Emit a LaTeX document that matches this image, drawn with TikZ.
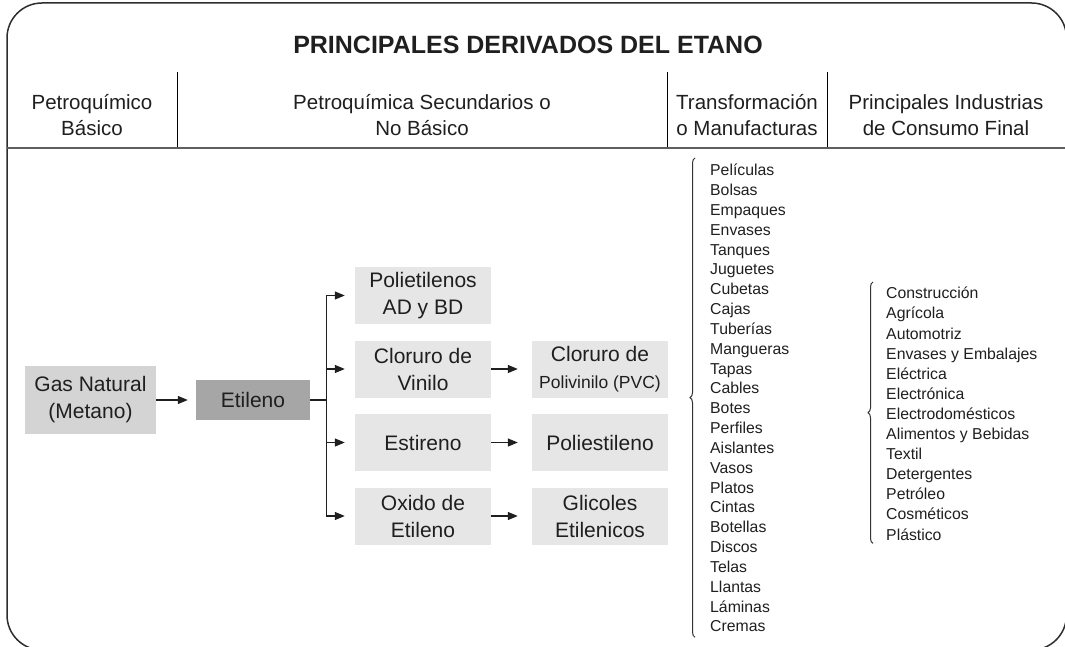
\documentclass[tikz,border=0pt]{standalone}
\usepackage{fontspec}
\setmainfont{Liberation Sans}
\usepackage{tikz}
\usetikzlibrary{arrows.meta,calc,positioning,decorations.pathreplacing}
\definecolor{boxgray}{RGB}{212,212,212}
\definecolor{darkbox}{RGB}{166,166,166}
\definecolor{lightbox}{RGB}{230,230,230}
\definecolor{rulegray}{RGB}{95,95,95}
\definecolor{framegray}{RGB}{45,45,45}

\begin{document}
\begin{tikzpicture}[x=1pt,y=-1pt,>={Triangle[length=10pt,width=8pt]},every node/.style={font=\fontsize{21}{27}\selectfont,text=black!88}]
  \tikzset{
    box/.style={fill=lightbox,align=center,minimum width=136pt,minimum height=57pt,inner sep=2pt},
    hdr/.style={align=center,font=\fontsize{20.5}{26}\selectfont},
    lst/.style={align=left,anchor=north west,inner sep=0pt},
    conn/.style={draw=black!88,line width=1.2pt,->},
    brc/.style={draw=black!80,line width=1pt,decorate,decoration={brace,amplitude=5pt}}
  }
  \useasboundingbox (0,0) rectangle (1065,647);
  \begin{scope}
    \clip (0,0) rectangle (1065,647);
    \draw[framegray,line width=1.5pt,rounded corners=35pt] (7,3) rectangle (1066.5,650);
  \end{scope}
  \node[font=\fontsize{25}{30}\selectfont\bfseries] (title) at (528,45) {PRINCIPALES DERIVADOS DEL ETANO};
  % cabecera
  \node[hdr] (h1) at (92,115) {Petroquímico\\ Básico};
  \node[hdr] (h2) at (422,115) {Petroquímica Secundarios o\\ No Básico};
  \node[hdr] (h3) at (747,115) {Transformación\\ o Manufacturas};
  \node[hdr] (h4) at (946,115) {Principales Industrias\\ de Consumo Final};
  \draw[line width=1pt] (177,72) -- (177,147);
  \draw[line width=1pt] (667,72) -- (667,147);
  \draw[line width=1pt] (827,72) -- (827,147);
  \draw[rulegray,line width=2.5pt] (7,148) -- (1065,148);
  % cadena
  \node[box,fill=boxgray,minimum width=131pt,minimum height=68pt] (gas) at (90.5,400) {Gas Natural\\ (Metano)};
  \node[box,fill=darkbox,minimum width=114pt,minimum height=40pt] (eti) at (253,400) {Etileno};
  \node[box] (poli) at (423,295.5) {Polietilenos\\ AD y BD};
  \node[box] (clv) at (423,369) {Cloruro de\\ Vinilo};
  \node[box] (est) at (423,442.5) {Estireno};
  \node[box] (oxi) at (423,516) {Oxido de\\ Etileno};
  \node[box] (pvc) at (600,369) {Cloruro de\\ {\fontsize{17.5}{20}\selectfont Polivinilo (PVC)}};
  \node[box] (pest) at (600,442.5) {Poliestileno};
  \node[box] (gli) at (600,516) {Glicoles\\ Etilenicos};
  \draw[conn,shorten >=8pt] (gas) -- (eti);
  \draw[conn,shorten >=10pt] (eti.east) -- ++(16,0) |- (poli.west);
  \draw[conn,shorten >=10pt] (eti.east) -- ++(16,0) |- (clv.west);
  \draw[conn,shorten >=10pt] (eti.east) -- ++(16,0) |- (est.west);
  \draw[conn,shorten >=10pt] (eti.east) -- ++(16,0) |- (oxi.west);
  \draw[conn,shorten >=14pt] (clv) -- (pvc);
  \draw[conn,shorten >=14pt] (est) -- (pest);
  \draw[conn,shorten >=14pt] (oxi) -- (gli);
  % listas
  \node[lst,font=\fontsize{15.8}{19.83}\selectfont] (manuf) at (710,164) {Películas\\ Bolsas\\ Empaques\\ Envases\\ Tanques\\ Juguetes\\ Cubetas\\ Cajas\\ Tuberías\\ Mangueras\\ Tapas\\ Cables\\ Botes\\ Perfiles\\ Aislantes\\ Vasos\\ Platos\\ Cintas\\ Botellas\\ Discos\\ Telas\\ Llantas\\ Láminas\\ Cremas};
  \node[lst,font=\fontsize{15.8}{20.1}\selectfont] (inds) at (886,287) {Construcción\\ Agrícola\\ Automotriz\\ Envases y Embalajes\\ Eléctrica\\ Electrónica\\ Electrodomésticos\\ Alimentos y Bebidas\\ Textil\\ Detergentes\\ Petróleo\\ Cosméticos\\ Plástico};
  \draw[brc] ([xshift=-15pt,yshift=-5pt]manuf.south west) -- ([xshift=-15pt,yshift=6pt]manuf.north west);
  \draw[brc] ([xshift=-13pt,yshift=-3pt]inds.south west) -- ([xshift=-13pt,yshift=5pt]inds.north west);
\end{tikzpicture}
\end{document}
